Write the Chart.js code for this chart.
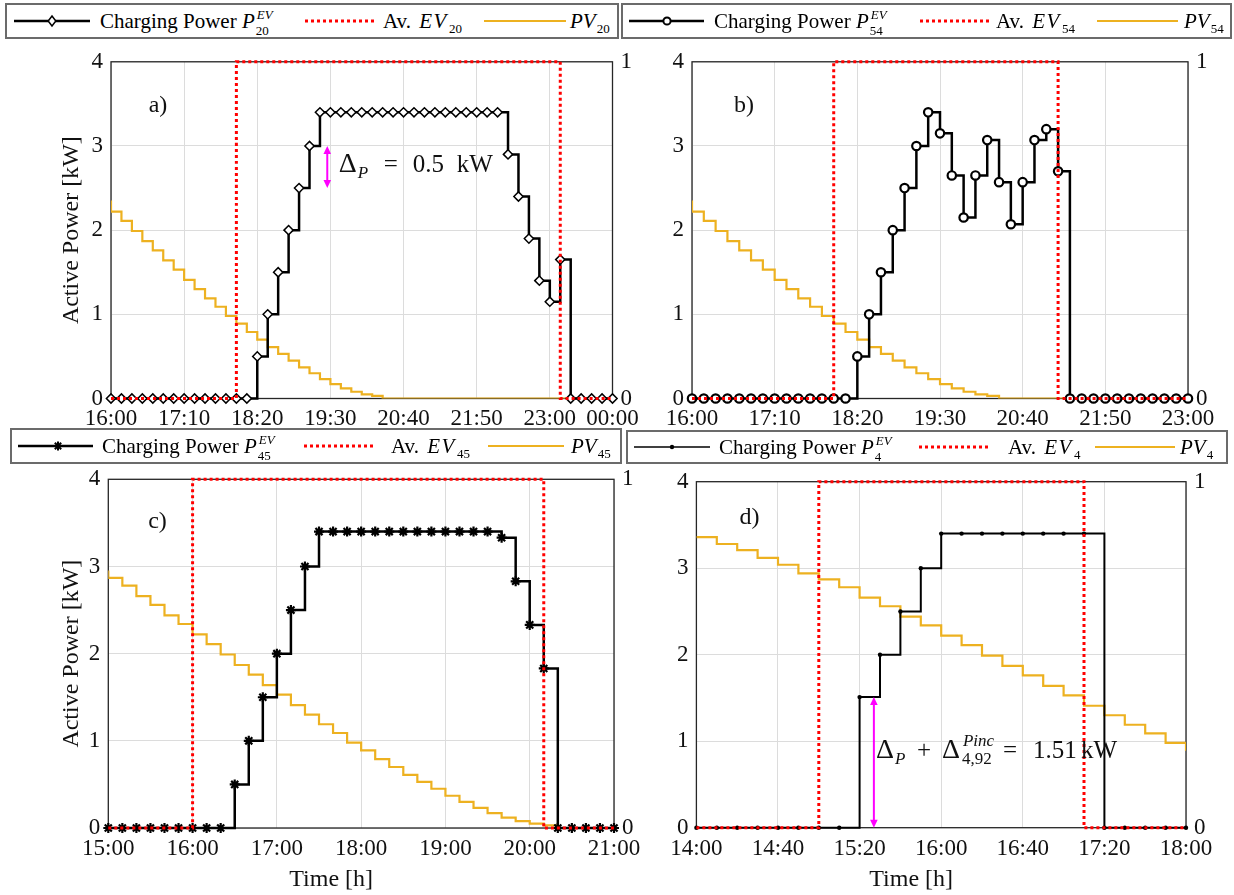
<!DOCTYPE html>
<html lang="en">
<head>
<meta charset="utf-8">
<title>EV charging power vs availability and PV</title>
<script src="https://cdn.jsdelivr.net/npm/chart.js@4.4.1/dist/chart.umd.min.js"></script>
<style>
  html, body { margin: 0; background: #fff; }
  #page { position: relative; width: 1234px; height: 895px; overflow: hidden; font-family: "Liberation Serif", serif; color: #000; }
  #page canvas { position: absolute; }
  .legend { position: absolute; box-sizing: border-box; border: 2px solid #6b6b6b; z-index: 2; }
  .legend .item { position: absolute; top: 0; white-space: nowrap; font-size: 21px; }
  .legend svg { display: block; }
  .m { font-style: italic; }
  .wide { letter-spacing: 1.5px; margin-left: 3px; }
  .lsub { font-size: 13px; position: relative; top: 5px; margin-left: 1px; }
  .ss { position: relative; display: inline-block; width: 18px; height: 1px; margin-left: 1px; }
  .ss .up { position: absolute; left: 1px; bottom: 7px; font-size: 13px; font-style: italic; line-height: 1; }
  .ss .dn { position: absolute; left: 0; top: -3px; font-size: 13px; line-height: 1; }
</style>
</head>
<body>
<div id="page"></div>
<script>
const sampleStep = 10; // minutes between samples

const evIds = ["20", "54", "45", "4"];
const panelTags = ["a)", "b)", "c)", "d)"];

const ticksA = ["16:00", "17:10", "18:20", "19:30", "20:40", "21:50", "23:00", "00:00"];
const ticksB = ["16:00", "17:10", "18:20", "19:30", "20:40", "21:50", "23:00"];
const ticksC = ["15:00", "16:00", "17:00", "18:00", "19:00", "20:00", "21:00"];
const ticksD = ["14:00", "14:40", "15:20", "16:00", "16:40", "17:20", "18:00"];

// PV profile shared by all panels, 14:00 .. 00:00
const pvStart = "14:00";
const pvKW = [
    3.36, 3.28, 3.21, 3.12, 3.04, 2.94,
    2.87, 2.78, 2.66, 2.56, 2.44, 2.34,
    2.22, 2.11, 1.99, 1.87, 1.76, 1.64,
    1.53, 1.41, 1.30, 1.19, 1.09, 0.98,
    0.89, 0.79, 0.70, 0.61, 0.53, 0.45,
    0.37, 0.30, 0.23, 0.17, 0.12, 0.08,
    0.05, 0.03, 0, 0, 0, 0,
    0, 0, 0, 0, 0, 0,
    0, 0, 0, 0, 0, 0,
    0, 0, 0, 0, 0, 0,
    0
];

const startA = "16:00";
const chargeA = [
    0, 0, 0, 0, 0, 0, 0, 0, 0, 0, 0, 0, 0, 0,
    0.5, 1.0, 1.5, 2.0, 2.5, 3.0,
    3.4, 3.4, 3.4, 3.4, 3.4, 3.4, 3.4, 3.4, 3.4, 3.4, 3.4, 3.4, 3.4, 3.4, 3.4, 3.4, 3.4, 3.4,
    2.9, 2.4, 1.9, 1.4, 1.15, 1.65,
    0, 0, 0, 0, 0
];
const availA = [
    0, 0, 0, 0, 0, 0, 0, 0, 0, 0, 0, 0,
    1, 1, 1, 1, 1, 1, 1, 1, 1, 1, 1, 1, 1, 1, 1, 1, 1, 1, 1, 1, 1, 1, 1, 1, 1, 1, 1, 1, 1, 1, 1,
    0, 0, 0, 0, 0, 0
];

const startB = "16:00";
const chargeB = [
    0, 0, 0, 0, 0, 0, 0, 0, 0, 0, 0, 0, 0, 0,
    0.5, 1.0, 1.5, 2.0, 2.5, 3.0, 3.4, 3.15, 2.65, 2.15, 2.65, 3.07, 2.57, 2.07, 2.57, 3.07, 3.2, 2.7,
    0, 0, 0, 0, 0, 0, 0, 0, 0, 0, 0
];
const availB = [
    0, 0, 0, 0, 0, 0, 0, 0, 0, 0, 0, 0,
    1, 1, 1, 1, 1, 1, 1, 1, 1, 1, 1, 1, 1, 1, 1, 1, 1, 1, 1,
    0, 0, 0, 0, 0, 0, 0, 0, 0, 0, 0, 0
];

const startC = "15:00";
const chargeC = [
    0, 0, 0, 0, 0, 0, 0, 0, 0,
    0.5, 1.0, 1.5, 2.0, 2.5, 3.0,
    3.4, 3.4, 3.4, 3.4, 3.4, 3.4, 3.4, 3.4, 3.4, 3.4, 3.4, 3.4, 3.4,
    3.33, 2.83, 2.33, 1.83,
    0, 0, 0, 0, 0
];
const availC = [
    0, 0, 0, 0, 0, 0,
    1, 1, 1, 1, 1, 1, 1, 1, 1, 1, 1, 1, 1, 1, 1, 1, 1, 1, 1, 1, 1, 1, 1, 1, 1,
    0, 0, 0, 0, 0, 0
];

const startD = "14:00";
const chargeD = [
    0, 0, 0, 0, 0, 0, 0, 0,
    1.51, 2.0, 2.5, 3.0,
    3.4, 3.4, 3.4, 3.4, 3.4, 3.4, 3.4, 3.4,
    0, 0, 0, 0, 0
];
const availD = [
    0, 0, 0, 0, 0, 0,
    1, 1, 1, 1, 1, 1, 1, 1, 1, 1, 1, 1, 1,
    0, 0, 0, 0, 0, 0
];

// annotation text pieces (dx in px from the anchor)
const noteA = [
    { t: "\u0394", dx: 0, big: true }, { t: "P", dx: 19, sub: true, it: true },
    { t: "=", dx: 45 }, { t: "0.5", dx: 74 }, { t: "kW", dx: 118 }
];
const noteD = [
    { t: "\u0394", dx: 0, big: true }, { t: "P", dx: 19, sub: true, it: true },
    { t: "+", dx: 41 }, { t: "\u0394", dx: 66, big: true },
    { t: "Pinc", dx: 87, sup: true, it: true }, { t: "4,92", dx: 86, sub: true },
    { t: "=", dx: 127 }, { t: "1.51", dx: 157 }, { t: "kW", dx: 205 }
];

const ink = "#111";
const gridColor = "#dcdcdc";
const fontFamily = '"Liberation Serif", serif';

Chart.defaults.font.family = fontFamily;

function clock(label) {
    const [h, m] = label.split(":").map(Number);
    return h * 60 + m;
}

function tickMinutes(labels) {
    let prev = -1;
    return labels.map(label => {
        let v = clock(label);
        while (v < prev) {
            v += 1440;
        }
        prev = v;
        return v;
    });
}

function clockLabel(v) {
    const m = ((v % 1440) + 1440) % 1440;
    const h = Math.floor(m / 60);
    return String(h).padStart(2, "0") + ":" + String(m % 60).padStart(2, "0");
}

function series(start, values) {
    const s = clock(start);
    return values.map((y, i) => ({ x: s + i * sampleStep, y }));
}

const markerStyles = {
    diamond: { pointStyle: "rectRot", pointRadius: 4.6, pointBorderWidth: 1.5, pointBackgroundColor: "#fff" },
    circle: { pointStyle: "circle", pointRadius: 4.2, pointBorderWidth: 2.2, pointBackgroundColor: "#fff" },
    star: { pointStyle: "star", pointRadius: 5, pointBorderWidth: 2.2, pointBackgroundColor: "#000" },
    dot: { pointStyle: "circle", pointRadius: 2.2, pointBorderWidth: 0, pointBackgroundColor: "#000" }
};

const marksPlugin = {
    id: "panelMarks",
    beforeDatasetsDraw(chart) {
        const { ctx, chartArea: a } = chart;
        ctx.save();
        ctx.strokeStyle = "#262626";
        ctx.lineWidth = 1.3;
        ctx.strokeRect(a.left, a.top, a.right - a.left, a.bottom - a.top);
        ctx.restore();
    },
    afterDatasetsDraw(chart, args, opts) {
        const { ctx, chartArea: area, scales: { x, y } } = chart;
        ctx.save();
        ctx.fillStyle = ink;
        ctx.font = "24px " + fontFamily;
        ctx.textAlign = "center";
        ctx.textBaseline = "middle";
        ctx.fillText(opts.tag, x.getPixelForValue(clock(opts.tagAt[0])), y.getPixelForValue(opts.tagAt[1]));

        // x-axis title sits a little left of the axes centre in the source figure
        if (opts.xTitle) {
            ctx.fillText(opts.xTitle, (area.left + area.right) / 2 - 30, chart.height - 15);
        }

        if (opts.arrow) {
            const ax = x.getPixelForValue(clock(opts.arrow[0]));
            const yLow = y.getPixelForValue(opts.arrow[1]);
            const yHigh = y.getPixelForValue(opts.arrow[2]);
            ctx.strokeStyle = "#ff00ff";
            ctx.fillStyle = "#ff00ff";
            ctx.lineWidth = 2;
            ctx.beginPath();
            ctx.moveTo(ax, yLow - 5);
            ctx.lineTo(ax, yHigh + 5);
            ctx.stroke();
            [[yHigh, 1], [yLow, -1]].forEach(([tip, dir]) => {
                ctx.beginPath();
                ctx.moveTo(ax, tip);
                ctx.lineTo(ax - 3.8, tip + dir * 8);
                ctx.lineTo(ax + 3.8, tip + dir * 8);
                ctx.closePath();
                ctx.fill();
            });
        }

        if (opts.note) {
            const nx = x.getPixelForValue(clock(opts.note[0]));
            const base = y.getPixelForValue(opts.note[1]) + 8.5;
            ctx.fillStyle = ink;
            ctx.textAlign = "left";
            ctx.textBaseline = "alphabetic";
            opts.note[2].forEach(pc => {
                const size = pc.sub || pc.sup ? 17 : pc.big ? 28 : 25;
                ctx.font = (pc.it ? "italic " : "") + size + "px " + fontFamily;
                const dy = pc.sub ? 6 : pc.sup ? -12 : 0;
                ctx.fillText(pc.t, nx + pc.dx, base + dy);
            });
        }
        ctx.restore();
    }
};

const panels = [
    {
        box: [0, 40, 660, 420], area: [111, 57.3, 612.5, 398.5],
        start: startA, ticks: ticksA, charge: chargeA, avail: availA, marker: "diamond",
        yTitle: true, xTitle: false, tagAt: ["16:45", 3.48],
        arrow: ["19:27", 2.5, 3.0], note: ["19:38", 2.79, noteA]
    },
    {
        box: [617, 40, 617, 420], area: [692, 56, 1188, 398.5],
        start: startB, ticks: ticksB, charge: chargeB, avail: availB, marker: "circle",
        yTitle: false, xTitle: false, tagAt: ["16:44", 3.48]
    },
    {
        box: [0, 440, 660, 455], area: [108.3, 479.3, 614, 828],
        start: startC, ticks: ticksC, charge: chargeC, avail: availC, marker: "star",
        yTitle: true, xTitle: true, tagAt: ["15:35", 3.51]
    },
    {
        box: [617, 440, 617, 455], area: [696.4, 481.7, 1186, 827.7],
        start: startD, ticks: ticksD, charge: chargeD, avail: availD, marker: "dot",
        yTitle: false, xTitle: true, tagAt: ["14:26", 3.58],
        arrow: ["15:27", 0, 1.51], note: ["15:28", 0.9, noteD]
    }
];

const legends = [
    { box: [5, 3, 619, 39], line: [14, 90], mark: 52, text: 100, red: [305, 376], av: 383, pvLine: [484, 566], pv: 570 },
    { box: [621, 3, 1232, 39], line: [629, 704], mark: 667, text: 714, red: [920, 990], av: 996, pvLine: [1097, 1178], pv: 1184 },
    { box: [10, 428, 622, 464], line: [18, 93], mark: 58, text: 102, red: [304, 373], av: 391, pvLine: [488, 564], pv: 571 },
    { box: [626, 430, 1228, 464], line: [634, 710], mark: 672, text: 719, red: [919, 990], av: 1008, pvLine: [1095, 1175], pv: 1180 }
];

const page = document.getElementById("page");

panels.forEach((p, index) => {
    const [cl, ct, cw, ch] = p.box;
    const [al, at, ar, ab] = p.area;
    const canvas = document.createElement("canvas");
    canvas.width = cw;
    canvas.height = ch;
    canvas.style.left = cl + "px";
    canvas.style.top = ct + "px";
    page.appendChild(canvas);

    const tickValues = tickMinutes(p.ticks);

    new Chart(canvas, {
        type: "line",
        data: {
            datasets: [
                {
                    label: "Charging Power",
                    data: series(p.start, p.charge),
                    borderColor: "#000",
                    borderWidth: p.marker === "dot" ? 2 : 2.5,
                    stepped: "before",
                    pointBorderColor: "#000",
                    order: 1,
                    clip: 8,
                    ...markerStyles[p.marker]
                },
                {
                    label: "Av. EV",
                    data: series(p.start, p.avail),
                    yAxisID: "y1",
                    borderColor: "#ff0000",
                    borderWidth: 3,
                    borderDash: [3, 3],
                    stepped: "before",
                    pointRadius: 0,
                    order: 0,
                    clip: 3
                },
                {
                    label: "PV",
                    data: series(pvStart, pvKW),
                    borderColor: "#EDB120",
                    borderWidth: 2.2,
                    stepped: "before",
                    pointRadius: 0,
                    order: 2
                }
            ]
        },
        options: {
            responsive: false,
            animation: false,
            events: [],
            devicePixelRatio: 1,
            layout: { padding: { left: 0, right: 0, top: at - ct, bottom: 0 } },
            plugins: {
                legend: { display: false },
                tooltip: { enabled: false },
                panelMarks: {
                    tag: panelTags[index], tagAt: p.tagAt, arrow: p.arrow, note: p.note,
                    xTitle: p.xTitle ? "Time [h]" : null
                }
            },
            scales: {
                x: {
                    type: "linear",
                    min: tickValues[0],
                    max: tickValues[tickValues.length - 1],
                    afterBuildTicks: scale => {
                        scale.ticks = tickValues.map(v => ({ value: v }));
                    },
                    afterFit: scale => {
                        scale.height = ct + ch - ab;
                    },
                    grid: { color: gridColor, drawTicks: false },
                    border: { display: false },
                    ticks: {
                        autoSkip: false,
                        maxRotation: 0,
                        padding: 7,
                        color: ink,
                        font: { size: 23 },
                        callback: v => clockLabel(v)
                    }
                },
                y: {
                    position: "left",
                    min: 0,
                    max: 4,
                    afterFit: scale => {
                        scale.width = al - cl;
                    },
                    grid: { color: gridColor, drawTicks: false },
                    border: { display: false },
                    ticks: { stepSize: 1, padding: 8, color: ink, font: { size: 23 } },
                    title: {
                        display: p.yTitle,
                        text: "Active Power [kW]",
                        color: ink,
                        font: { size: 24 },
                        padding: { top: 72 - cl - 14.4, bottom: 0 }
                    }
                },
                y1: {
                    position: "right",
                    min: 0,
                    max: 1,
                    afterFit: scale => {
                        scale.width = cl + cw - ar;
                    },
                    grid: { display: false, drawTicks: false },
                    border: { display: false },
                    ticks: { stepSize: 1, padding: 8, color: ink, font: { size: 23 } }
                }
            }
        },
        plugins: [marksPlugin]
    });
});

function legendMarker(kind, cx, cy) {
    if (kind === "diamond") {
        return `<polygon points="${cx},${cy - 5} ${cx + 3.8},${cy} ${cx},${cy + 5} ${cx - 3.8},${cy}" fill="#fff" stroke="#000" stroke-width="1.5"/>`;
    }
    if (kind === "circle") {
        return `<circle cx="${cx}" cy="${cy}" r="3.6" fill="#fff" stroke="#000" stroke-width="2"/>`;
    }
    if (kind === "star") {
        const r = 4.5, d = r * Math.SQRT1_2;
        return `<path d="M${cx - r} ${cy}H${cx + r}M${cx} ${cy - r}V${cy + r}M${cx - d} ${cy - d}L${cx + d} ${cy + d}M${cx - d} ${cy + d}L${cx + d} ${cy - d}" stroke="#000" stroke-width="2"/>`;
    }
    return `<circle cx="${cx}" cy="${cy}" r="2.2" fill="#000"/>`;
}

legends.forEach((spec, index) => {
    const [bl, bt, br, bb] = spec.box;
    const border = 2;
    const inner = bb - bt - 2 * border;
    const cy = inner / 2;
    const evId = evIds[index];
    const marker = panels[index].marker;

    const box = document.createElement("div");
    box.className = "legend";
    Object.assign(box.style, {
        left: bl + "px", top: bt + "px",
        width: (br - bl) + "px", height: (bb - bt) + "px"
    });

    const place = (x, html) => {
        const el = document.createElement("div");
        el.className = "item";
        el.style.left = (x - bl - border) + "px";
        el.style.height = inner + "px";
        el.style.lineHeight = inner + "px";
        el.innerHTML = html;
        box.appendChild(el);
    };
    const sample = (x1, x2, body) => place(x1, `<svg width="${x2 - x1}" height="${inner}">${body}</svg>`);

    const [l1, l2] = spec.line;
    sample(l1, l2,
        `<line x1="0" y1="${cy}" x2="${l2 - l1}" y2="${cy}" stroke="#000" stroke-width="${marker === "dot" ? 1.6 : 2.5}"/>` +
        legendMarker(marker, spec.mark - l1, cy));
    place(spec.text, `Charging Power <span class="m">P</span><span class="ss"><span class="up">EV</span><span class="dn">${evId}</span></span>`);

    const [r1, r2] = spec.red;
    sample(r1, r2, `<line x1="0" y1="${cy}" x2="${r2 - r1}" y2="${cy}" stroke="#ff0000" stroke-width="3" stroke-dasharray="3 3"/>`);
    place(spec.av, `Av. <span class="m wide">EV</span><span class="lsub">${evId}</span>`);

    const [p1, p2] = spec.pvLine;
    sample(p1, p2, `<line x1="0" y1="${cy}" x2="${p2 - p1}" y2="${cy}" stroke="#EDB120" stroke-width="2"/>`);
    place(spec.pv, `<span class="m">PV</span><span class="lsub">${evId}</span>`);

    page.appendChild(box);
});
</script>
</body>
</html>
